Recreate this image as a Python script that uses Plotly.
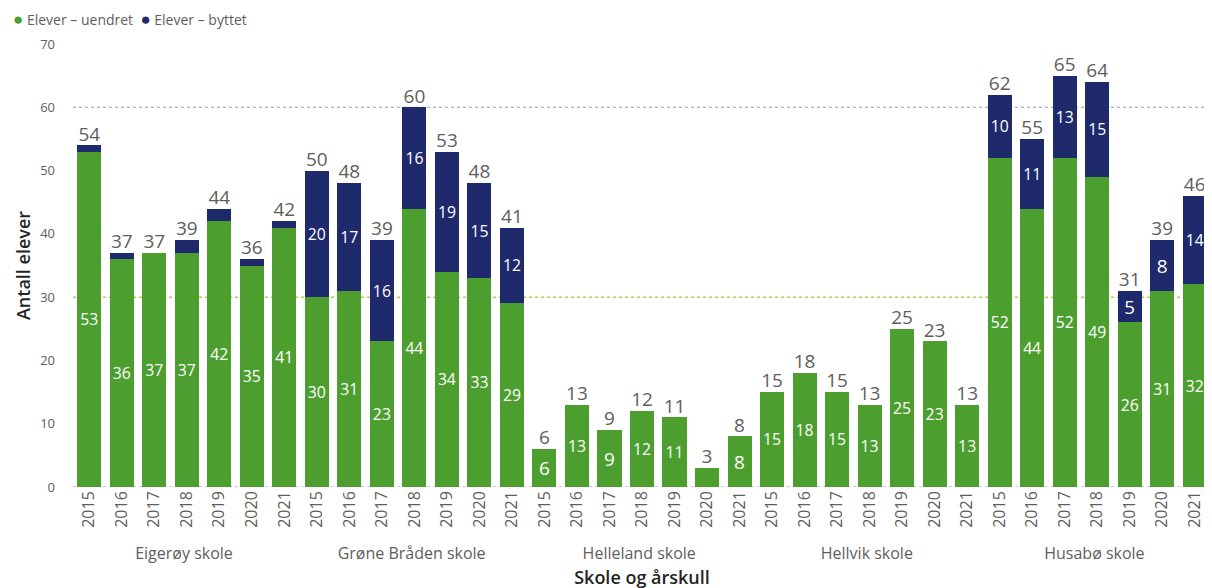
import plotly.graph_objects as go

# ── Data ────────────────────────────────────────────────────────────────
schools = ["Eigerøy skole", "Grøne Bråden skole", "Helleland skole", "Hellvik skole", "Husabø skole"]
years = ["2015", "2016", "2017", "2018", "2019", "2020", "2021"]

uendret = [
    53, 36, 37, 37, 42, 35, 41,   # Eigerøy
    30, 31, 23, 44, 34, 33, 29,   # Grøne Bråden
    6, 13, 9, 12, 11, 3, 8,       # Helleland
    15, 18, 15, 13, 25, 23, 13,   # Hellvik
    52, 44, 52, 49, 26, 31, 32,   # Husabø
]
byttet = [
    1, 1, 0, 2, 2, 1, 1,
    20, 17, 16, 16, 19, 15, 12,
    0, 0, 0, 0, 0, 0, 0,
    0, 0, 0, 0, 0, 0, 0,
    10, 11, 13, 15, 5, 8, 14,
]

# ── Styling ─────────────────────────────────────────────────────────────
GREEN = "#4c9f2e"
NAVY = "#1f2a6d"
GREY_TXT = "#605e5c"
DARK_TXT = "#252423"
FONT = "Open Sans"

x_school = [s for s in schools for _ in years]
x_year = [y for _ in schools for y in years]
totals = [a + b for a, b in zip(uendret, byttet)]
n_bars = len(totals)

# only label segments that are tall enough to hold the text
lbl_u = [str(v) if v >= 5 else "" for v in uendret]
lbl_b = [str(v) if v >= 5 else "" for v in byttet]

fig = go.Figure()

fig.add_trace(go.Bar(
    x=[x_school, x_year], y=uendret, name="Elever – uendret",
    marker=dict(color=GREEN, line=dict(width=0)),
    text=lbl_u, textposition="inside", insidetextanchor="middle",
    textfont=dict(color="white", size=19, family=FONT),
    textangle=0, showlegend=False,
))
fig.add_trace(go.Bar(
    x=[x_school, x_year], y=byttet, name="Elever – byttet",
    marker=dict(color=NAVY, line=dict(width=0)),
    text=lbl_b, textposition="inside", insidetextanchor="middle",
    textfont=dict(color="white", size=19, family=FONT),
    textangle=0, showlegend=False,
))

# totals above each stack
fig.add_trace(go.Scatter(
    x=[x_school, x_year], y=totals, mode="text",
    text=[str(t) for t in totals], textposition="top center",
    textfont=dict(color=GREY_TXT, size=19, family=FONT),
    showlegend=False, hoverinfo="skip", cliponaxis=False,
))

# legend drawn as a single line of text with round markers
legend_txt = (
    f"<span style='color:{GREEN};font-size:17px'>●</span> Elever – uendret  "
    f"<span style='color:{NAVY};font-size:17px'>●</span> Elever – byttet"
)
fig.add_annotation(
    text=legend_txt, xref="paper", yref="paper", x=0, y=1.0,
    xshift=-62, yshift=26, xanchor="left", yanchor="middle", showarrow=False,
    font=dict(size=14, color=GREY_TXT, family=FONT),
)

# reference lines
fig.add_hline(y=60, line=dict(color="#9a9a9a", width=1, dash="dot"), layer="below")
fig.add_hline(y=30, line=dict(color="#bccb4f", width=1.5, dash="dot"), layer="below")
fig.add_hline(y=0, line=dict(color="#9a9a9a", width=1, dash="dot"), layer="below")

# page body adds an 8px offset, margins compensate for it
fig.update_layout(
    width=1212, height=588,
    barmode="stack", bargap=0.26,
    plot_bgcolor="white", paper_bgcolor="white",
    font=dict(family=FONT, color=GREY_TXT, size=13),
    margin=dict(l=65, r=9, t=36, b=109, autoexpand=False),
    showlegend=False,
    xaxis=dict(
        type="multicategory", showdividers=False, tickangle=-90,
        range=[-0.5, n_bars - 0.5], automargin=False,
        tickfont=dict(size=16, color=GREY_TXT),
        title=dict(text="Skole og årskull",
                   font=dict(size=18, color=DARK_TXT, weight=600), standoff=8),
        showgrid=False, zeroline=False, ticks="",
    ),
    yaxis=dict(
        range=[0, 70], dtick=10, showgrid=False, zeroline=False,
        automargin=False, ticklabelstandoff=17,
        tickfont=dict(size=13, color=GREY_TXT),
        title=dict(text="Antall elever",
                   font=dict(size=18, color=DARK_TXT, weight=600), standoff=4),
    ),
)

fig.write_html("out.html")
